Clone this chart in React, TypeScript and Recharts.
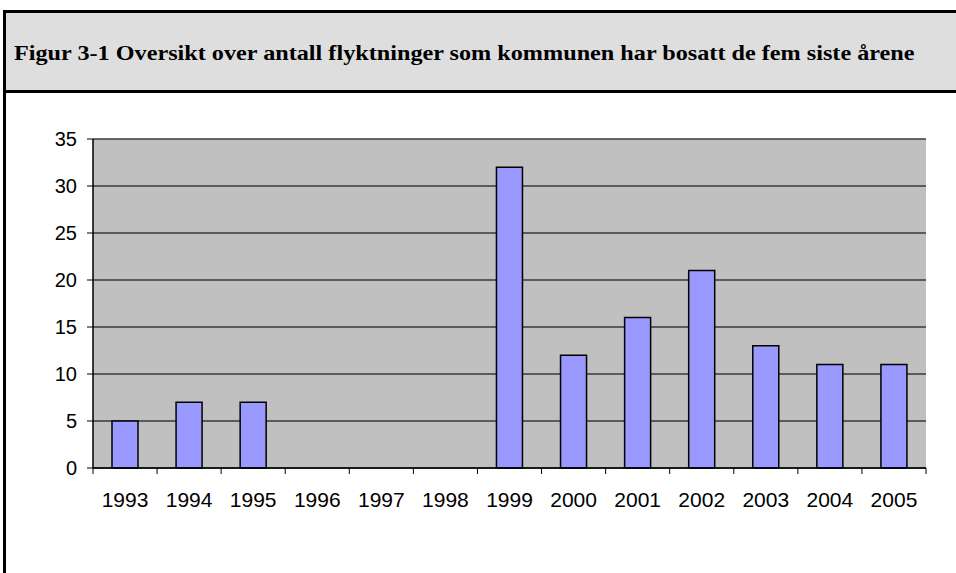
import React from "react";
import { BarChart, Bar, XAxis, YAxis, CartesianGrid } from "recharts";

const years = ["1993", "1994", "1995", "1996", "1997", "1998", "1999", "2000", "2001", "2002", "2003", "2004", "2005"];
const refugees = [5, 7, 7, 0, 0, 0, 32, 12, 16, 21, 13, 11, 11];
const yTicks = [0, 5, 10, 15, 20, 25, 30, 35];
const titleText = "Figur 3-1 Oversikt over antall flyktninger som kommunen har bosatt de fem siste årene";

const data = years.map((y, i) => ({ year: y, value: refugees[i] }));

function YearTick(props: any) {
  const { x, y, payload, index, visibleTicksCount } = props;
  const half = payload && payload.offset ? payload.offset : 0;
  const isLast = index === (visibleTicksCount ?? years.length) - 1;
  return (
    <g>
      <line x1={x - half} x2={x - half} y1={y - 24} y2={y - 18} stroke="#000" strokeWidth={1} />
      {isLast && <line x1={x + half} x2={x + half} y1={y - 24} y2={y - 18} stroke="#000" strokeWidth={1} />}
      <text
        x={x}
        y={y}
        dy="0.71em"
        textAnchor="middle"
        fill="#000"
        fontSize={21}
        fontFamily="'Liberation Sans', Arial, sans-serif"
      >
        {payload.value}
      </text>
    </g>
  );
}

export default function App() {
  return (
    <div style={{ position: "absolute", left: 0, top: 0, width: 956, height: 573, background: "#fff", overflow: "hidden" }}>
      <div
        style={{
          position: "absolute",
          left: 3,
          top: 10,
          width: 960,
          height: 77,
          background: "#dedede",
          borderTop: "3px solid #000",
          borderBottom: "3px solid #000",
          borderLeft: "3px solid #000",
        }}
      >
        <div
          style={{
            position: "absolute",
            left: 8,
            top: 28,
            fontFamily: "'Liberation Serif', 'Times New Roman', serif",
            fontWeight: "bold",
            fontSize: 22,
            lineHeight: "24px",
            color: "#000",
            whiteSpace: "nowrap",
            transform: "scaleX(1.1)",
            transformOrigin: "left center",
          }}
        >
          {titleText}
        </div>
      </div>
      <div style={{ position: "absolute", left: 3, top: 90, width: 3, height: 483, background: "#000" }} />
      <div style={{ position: "absolute", left: 0, top: 0 }}>
        <BarChart
          width={956}
          height={573}
          data={data}
          margin={{ top: 139, right: 30, left: 0, bottom: 65 }}
          barCategoryGap={0}
        >
          <CartesianGrid xAxisId="cat" yAxisId="l" vertical={false} fill="#c0c0c0" stroke="#3a3a3a" strokeWidth={1.5} />
          <XAxis
            xAxisId="cat"
            dataKey="year"
            height={40}
            tickSize={0}
            tickMargin={24}
            axisLine={{ stroke: "#000", strokeWidth: 1.5 }}
            tickLine={false}
            tick={<YearTick />}
            interval={0}
          />
          <YAxis
            yAxisId="l"
            domain={[0, 35]}
            ticks={yTicks}
            width={93}
            tickSize={6}
            tickMargin={10}
            axisLine={{ stroke: "#000", strokeWidth: 1.5 }}
            tickLine={{ stroke: "#000", strokeWidth: 1 }}
            tick={{ fill: "#000", fontSize: 20, fontFamily: "'Liberation Sans', Arial, sans-serif" }}
            interval={0}
          />
          <YAxis
            yAxisId="r"
            orientation="right"
            domain={[0, 35]}
            width={0}
            tick={false}
            tickLine={false}
            axisLine={{ stroke: "#808080", strokeWidth: 2 }}
          />
          <Bar
            xAxisId="cat"
            yAxisId="l"
            dataKey="value"
            fill="#9999ff"
            stroke="#000"
            strokeWidth={1.5}
            barSize={26}
            isAnimationActive={false}
          />
        </BarChart>
      </div>
    </div>
  );
}
